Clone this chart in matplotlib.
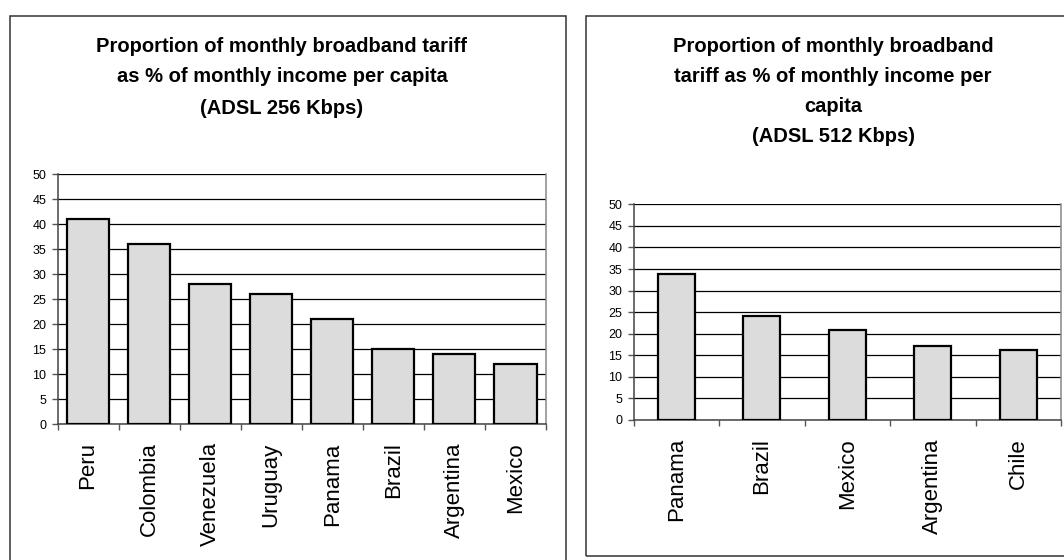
import matplotlib
matplotlib.use("Agg")
import matplotlib.pyplot as plt
from matplotlib.patches import Rectangle

# Data: tariff as % of monthly income per capita
countries_256 = ["Peru", "Colombia", "Venezuela", "Uruguay", "Panama", "Brazil", "Argentina", "Mexico"]
values_256 = [41, 36, 28, 26, 21, 15, 14, 12]

countries_512 = ["Panama", "Brazil", "Mexico", "Argentina", "Chile"]
values_512 = [33.8, 24.1, 20.8, 17.2, 16.2]

title_256 = ["Proportion of monthly broadband tariff",
             "as % of monthly income per capita",
             "(ADSL 256 Kbps)"]
title_512 = ["Proportion of monthly broadband",
             "tariff as % of monthly income per",
             "capita",
             "(ADSL 512 Kbps)"]

y_ticks = list(range(0, 55, 5))

plt.rcParams["font.family"] = ["Liberation Sans", "DejaVu Sans"]

W, H = 1064, 560
fig = plt.figure(figsize=(W / 100, H / 100), dpi=100)
fig.patch.set_facecolor("white")


def fx(px):
    return px / W


def fy(py):
    return 1 - py / H


# Outer chart frames
fig.add_artist(Rectangle((fx(9.5), fy(575)), fx(566) - fx(9.5), fy(16) - fy(575),
                         transform=fig.transFigure, fill=False, ec="#333333", lw=1.1))
fig.add_artist(Rectangle((fx(585.5), fy(555.5)), fx(1080) - fx(585.5), fy(16) - fy(555.5),
                         transform=fig.transFigure, fill=False, ec="#333333", lw=1.1))


def draw_panel(rect, cats, vals, bar_w):
    ax = fig.add_axes(rect)
    x = list(range(len(cats)))
    ax.bar(x, vals, width=bar_w, color="#dcdcdc", edgecolor="black", linewidth=1.6, zorder=3)
    ax.set_xlim(-0.5, len(cats) - 0.5)
    ax.set_ylim(0, 50)
    ax.set_yticks(y_ticks)
    ax.set_yticklabels([str(v) for v in y_ticks], fontsize=9)
    ax.yaxis.grid(True, color="black", lw=0.9, zorder=1)
    ax.set_axisbelow(True)
    # category boundaries carry the x tick marks
    ax.set_xticks([i - 0.5 for i in range(len(cats) + 1)])
    ax.set_xticklabels([])
    ax.set_xticks(x, minor=True)
    ax.set_xticklabels(cats, minor=True, rotation=90, fontsize=16, va="top", ha="center")
    ax.tick_params(axis="x", which="minor", length=0, pad=13)
    ax.tick_params(axis="x", which="major", length=4, width=1, color="#555555", direction="out")
    ax.tick_params(axis="y", length=4, width=1, color="#555555", direction="out", pad=4)
    for s in ("left", "bottom"):
        ax.spines[s].set_color("#444444")
        ax.spines[s].set_linewidth(1.1)
    ax.spines["right"].set_color("#888888")
    ax.spines["right"].set_linewidth(1.1)
    ax.spines["top"].set_visible(False)
    return ax


draw_panel([fx(57.5), fy(424.3), fx(546) - fx(57.5), fy(174.3) - fy(424.3)],
           countries_256, values_256, 0.69)
draw_panel([fx(633.5), fy(420), fx(1061) - fx(633.5), fy(204.3) - fy(420)],
           countries_512, values_512, 0.43)

for i, line in enumerate(title_256):
    fig.text(fx(282), fy(46 + 31 * i), line, ha="center", va="center",
             fontsize=14.5, fontweight="bold")
for i, line in enumerate(title_512):
    fig.text(fx(833), fy(46 + 30.3 * i), line, ha="center", va="center",
             fontsize=14.5, fontweight="bold")

fig.savefig("out.png", dpi=100, facecolor="white")
